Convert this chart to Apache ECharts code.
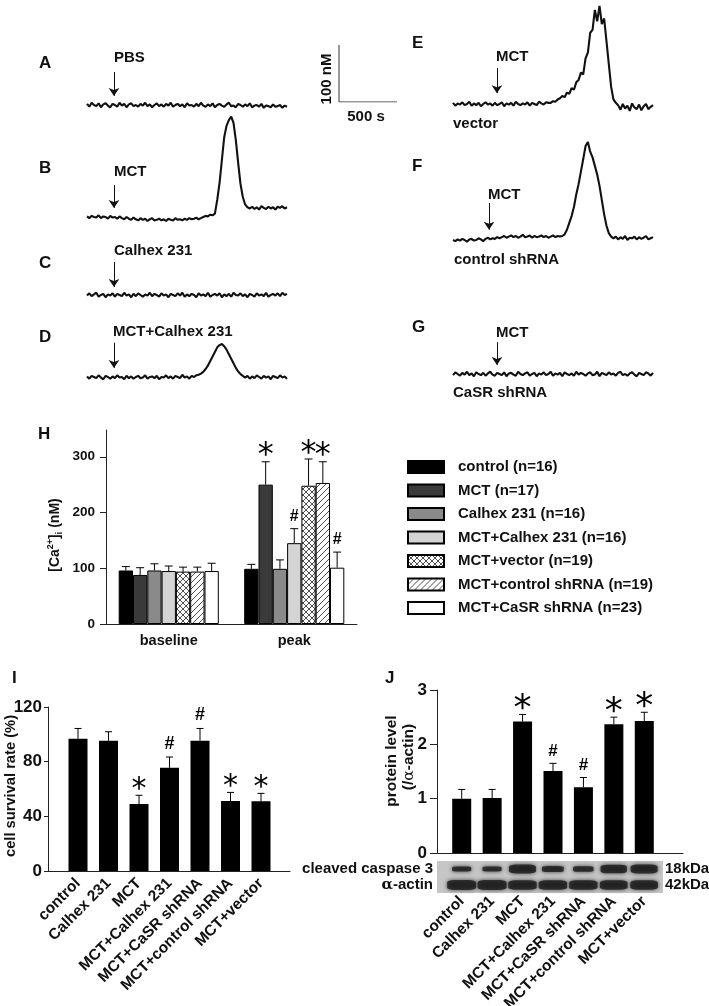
<!DOCTYPE html>
<html><head><meta charset="utf-8">
<script src="https://cdn.jsdelivr.net/npm/echarts@6/dist/echarts.min.js"></script>
<style>html,body{margin:0;padding:0;background:#fff}#c{width:709px;height:1006px}</style>
</head><body><div id="c"></div>
<script>
// ---------------- DATA ----------------
// Ca2+ traces: deviation from resting level (nM), one sample every 20 s
const SAMPLE_S = 20;
const tracePBS = [2,-3,4,0,-2,3,-4,1,3,-1,-4,2,0,-3,4,-1,2,-4,1,3,-2,0,-3,2,-1,4,-2,1,-4,0,3,-2,1,-3,2,-1,4,-3,0,2,-2,1,-4,3,-1,0,-3,2,-2,4,-1,-3,1,-2,3,-4,0,2,-1,-3,1,4,-2,-1,-4,2,0,-3,1,-2,3,-4,-1,0,-3,2,-5,-1,-2,-4,1,-3,-2,0,-5,-1,-3];
const traceMCT = [1,-2,2,0,-1,3,-2,1,0,-3,2,-1,0,-3,1,-2,-4,0,-3,-5,-1,-4,-6,-2,-5,-3,-7,-4,-2,-6,-5,-3,-6,-4,-7,-3,-5,-6,-2,-5,-4,-6,-3,-5,-2,-4,-3,-1,-4,-2,0,2,1,4,3,6,30,60,100,140,160,170,176,165,135,95,58,35,22,17,15,18,14,17,13,19,16,14,18,15,17,13,18,16,19,15,17];
const traceCalhex = [-1,3,-2,1,4,-3,0,2,-4,1,-1,3,-3,2,0,-2,4,-1,1,-4,2,-2,3,0,-3,1,-1,4,-2,2,0,-3,3,-1,1,-4,2,0,-2,3,-1,4,-3,1,-2,2,0,-4,3,-1,1,-2,4,-3,0,2,-1,3,-4,1,-2,2,-3,4,0,-1,3,-2,1,-4,2,0,-3,3,-1,1,-2,4,-3,0,2,-1,3,-2,4,0,2];
const traceMCTCalhex = [1,-3,2,0,-2,3,-1,-4,2,0,-3,1,-2,3,-1,0,-4,2,-2,1,-3,0,2,-2,-1,3,-3,0,1,-2,2,-4,0,-1,3,-2,1,-3,2,0,-2,4,-1,1,-3,2,0,3,4,6,9,14,20,28,36,44,52,56,58,54,48,40,32,24,16,10,5,2,-1,2,-3,1,-2,3,0,-3,2,-1,1,-4,2,0,-2,3,-1,1,-3];
const traceVector = [2,-3,1,-1,3,-2,0,4,-3,1,-2,2,-4,0,3,-1,1,-3,2,-2,0,3,-4,1,-1,2,-3,4,0,-2,1,-1,3,-3,2,0,-2,4,1,-1,3,2,2,5,4,8,10,14,12,20,18,28,25,38,42,55,52,80,90,125,130,165,145,172,140,150,110,70,30,8,2,-2,-10,0,-8,-3,-12,1,-6,-9,-1,-11,-4,0,-9,-5,-2];
const traceCtrlSh = [0,-2,1,-1,2,0,-3,1,2,-1,0,3,1,-2,2,4,1,3,2,5,3,5,7,4,6,8,5,7,4,6,9,5,6,8,4,7,5,6,8,5,7,4,6,8,5,7,6,7,10,18,30,42,58,80,98,120,142,165,172,155,145,130,115,95,70,45,25,12,6,3,6,1,5,2,7,0,4,3,6,1,5,2,4,7,1,3,5];
const traceCaSRsh = [-2,3,0,-3,2,-1,4,-2,1,-4,3,0,-2,2,-3,1,4,-1,-3,2,0,-2,3,-4,1,2,-1,-3,4,0,-2,1,3,-3,0,2,-4,1,-1,3,-2,0,4,-3,1,-1,2,-4,3,0,-2,1,-3,4,-1,2,0,-3,1,3,-2,-1,4,-4,2,0,-2,3,-1,1,-3,2,4,-2,0,-3,1,3,-1,-4,2,0,-2,3,1,-3,2];
const stimulusTime = [232, 232, 232, 232, 378, 310, 378]; // s
const scaleBarTime = [0, 0, 500];   // s
const scaleBarConc = [100, 0, 0];   // nM

// Panel H
const hCategories = ['baseline', 'peak'];
const hGroups = ['control (n=16)','MCT (n=17)','Calhex 231 (n=16)','MCT+Calhex 231 (n=16)','MCT+vector (n=19)','MCT+control shRNA (n=19)','MCT+CaSR shRNA (n=23)'];
const hBaseline = [96, 88, 96, 95, 94, 94, 95];
const hBaselineErr = [7, 13, 12, 9, 8, 8, 14];
const hPeak = [99, 250, 99, 145, 248, 253, 101];
const hPeakErr = [8, 41, 16, 26, 48, 38, 28];
const hPeakMarks = ['', '*', '', '#', '*', '*', '#'];
const hTicks = [0, 100, 200, 300];

// Panels I & J
const ijCategories = ['control','Calhex 231','MCT','MCT+Calhex 231','MCT+CaSR shRNA','MCT+control shRNA','MCT+vector'];
const iSurvival = [96.8, 95.3, 49, 75.5, 95.3, 51.2, 51];
const iErr = [7.5, 6.6, 6.4, 7.9, 9, 6.3, 5.8];
const iMarks = ['', '', '*', '#', '#', '*', '*'];
const jProtein = [1.0, 1.01, 2.42, 1.51, 1.21, 2.37, 2.43];
const jErr = [0.17, 0.16, 0.13, 0.14, 0.18, 0.13, 0.16];
const jMarks = ['', '', '*', '#', '#', '*', '*'];
const blotRows = ['α-actin', 'cleaved caspase 3'];
const blotMass = ['42kDa', '18kDa'];
const blotCaspase = [0.4, 0.4, 1.0, 0.6, 0.5, 0.95, 1.0];
const blotActin = [1, 1, 0.95, 0.95, 0.95, 0.9, 0.9];

// ---------------- LAYOUT / STYLE ----------------
const FONT = "'Liberation Sans', Arial, sans-serif";
const NARROW = "'Liberation Sans Narrow', 'Liberation Sans', Arial, sans-serif";
const INK = '#111';
const PXN = 0.57; // px per nM
const traceBoxes = [
  {left: 87, base: 105, max: 80, from: 58, to: 16},
  {left: 87, base: 217, max: 190, from: 56, to: 16},
  {left: 87, base: 295, max: 80, from: 58, to: 14},
  {left: 87, base: 377, max: 80, from: 60, to: 16},
  {left: 453, base: 104, max: 180, from: 63, to: 19},
  {left: 453, base: 240, max: 190, from: 65, to: 18},
  {left: 453, base: 374, max: 80, from: 56, to: 16}
];
const traces = [tracePBS, traceMCT, traceCalhex, traceMCTCalhex, traceVector, traceCtrlSh, traceCaSRsh];

function pattern(kind) {
  const c = document.createElement('canvas'); c.width = c.height = 6;
  const g = c.getContext('2d');
  g.fillStyle = '#fff'; g.fillRect(0, 0, 6, 6);
  g.strokeStyle = '#222'; g.lineWidth = 0.8; g.beginPath();
  if (kind === 'cross') { g.moveTo(0,0); g.lineTo(6,6); g.moveTo(6,0); g.lineTo(0,6); }
  else { g.moveTo(0,6); g.lineTo(6,0); g.moveTo(-1,1); g.lineTo(1,-1); g.moveTo(5,7); g.lineTo(7,5); }
  g.stroke();
  return {image: c, repeat: 'repeat'};
}
const hFills = ['#000', '#3a3a3a', '#8a8a8a', '#d4d4d4', pattern('cross'), pattern('hatch'), '#fff'];

const grids = [], xAxes = [], yAxes = [], series = [];
function addGrid(g) { grids.push(Object.assign({outerBoundsMode: 'none', containLabel: false}, g)); }
traceBoxes.forEach((b, i) => {
  addGrid({left: b.left, top: b.base - b.max * PXN, width: 200, height: (b.max + 20) * PXN});
  xAxes.push({gridIndex: i, type: 'value', min: 0, max: 1720, show: false});
  yAxes.push({gridIndex: i, type: 'value', min: -20, max: b.max, show: false});
  series.push({
    type: 'line', xAxisIndex: i, yAxisIndex: i, symbol: 'none', silent: true,
    data: traces[i].map((v, k) => [k * SAMPLE_S, v]),
    lineStyle: {color: INK, width: 2.1},
    markLine: {silent: true, symbol: ['none', 'arrow'], symbolSize: 8, label: {show: false},
      lineStyle: {color: INK, width: 1, type: 'solid'},
      data: [[{coord: [stimulusTime[i], b.from]}, {coord: [stimulusTime[i], b.to]}]]}
  });
});
// scale bar (grid 7)
addGrid({left: 339, top: 45, width: 58, height: 57});
xAxes.push({gridIndex: 7, type: 'value', min: 0, max: 500, show: false});
yAxes.push({gridIndex: 7, type: 'value', min: 0, max: 100, show: false});
series.push({type: 'line', xAxisIndex: 7, yAxisIndex: 7, symbol: 'none', silent: true,
  data: scaleBarTime.map((t, k) => [t, scaleBarConc[k]]), lineStyle: {color: '#333', width: 1}});

const axisLineStyle = {color: '#222', width: 1};
const boldLabel = (size, extra) => Object.assign({color: INK, fontFamily: FONT, fontWeight: 'bold', fontSize: size}, extra || {});

// H (grid 8)
addGrid({left: 106, top: 430, width: 251, height: 194});
xAxes.push({gridIndex: 8, type: 'category', data: hCategories, axisLine: {lineStyle: axisLineStyle},
  axisTick: {show: false}, axisLabel: boldLabel(14.5, {margin: 9})});
yAxes.push({gridIndex: 8, type: 'value', min: 0, max: 348, splitLine: {show: false},
  axisLine: {show: true, lineStyle: axisLineStyle},
  axisTick: {show: true, length: 6, customValues: hTicks, lineStyle: axisLineStyle},
  axisLabel: boldLabel(13.5, {margin: 11, customValues: hTicks})});
const HBW = 14.3;
hGroups.forEach((name, k) => {
  series.push({type: 'bar', name, xAxisIndex: 8, yAxisIndex: 8, barWidth: HBW, barGap: '0%',
    data: [hBaseline[k], hPeak[k]], itemStyle: {color: hFills[k], borderColor: '#000', borderWidth: 1}});
});

function starY(y, fs) { return y + 0.2 * fs; }
function errSeries(xi, yi, vals, errs, marks, o) {
  return {
    type: 'custom', xAxisIndex: xi, yAxisIndex: yi, z: 5, silent: true,
    data: vals.map((v, i) => [i, v + errs[i]]),
    renderItem: function (params, api) {
      const i = params.dataIndex;
      const p0 = api.coord([i, vals[i]]), p1 = api.coord([i, vals[i] + errs[i]]);
      const x = p0[0] + (o.offset || 0);
      const ch = [
        {type: 'line', shape: {x1: x, y1: p0[1], x2: x, y2: p1[1]}, style: {stroke: '#000', lineWidth: 1}},
        {type: 'line', shape: {x1: x - o.cap / 2, y1: p1[1], x2: x + o.cap / 2, y2: p1[1]}, style: {stroke: '#000', lineWidth: 1}}
      ];
      const m = marks[i];
      if (m === '*') {
        const cy = p1[1] - o.starGap;
        ch.push({type: 'text', x: x, y: starY(cy, o.starSize), style: {text: '*', fill: '#000',
          font: o.starSize + "px 'DejaVu Sans', sans-serif", textAlign: 'center', align: 'center', textVerticalAlign: 'middle', verticalAlign: 'middle'}});
      } else if (m === '#') {
        const cy = p1[1] - o.hashGap;
        ch.push({type: 'text', x: x, y: cy, style: {text: '#', fill: '#000',
          font: 'bold ' + o.hashSize + 'px ' + FONT, textAlign: 'center', align: 'center', textVerticalAlign: 'middle', verticalAlign: 'middle'}});
      }
      return {type: 'group', children: ch};
    }
  };
}
hGroups.forEach((name, k) => {
  series.push(errSeries(8, 8, [hBaseline[k], hPeak[k]], [hBaselineErr[k], hPeakErr[k]], ['', hPeakMarks[k]],
    {offset: (k - 3) * HBW, cap: 8, starGap: 12, starSize: 32, hashGap: 12, hashSize: 16}));
});

// I outer (9) & inner (10)
addGrid({left: 48, top: 707, width: 242, height: 164});
xAxes.push({gridIndex: 9, type: 'value', min: 0, max: 1, axisLine: {show: true, lineStyle: axisLineStyle},
  axisTick: {show: false}, axisLabel: {show: false}, splitLine: {show: false}});
yAxes.push({gridIndex: 9, type: 'value', min: 0, max: 120, interval: 40, splitLine: {show: false},
  axisLine: {show: true, lineStyle: axisLineStyle}, axisTick: {show: true, length: 4, lineStyle: axisLineStyle},
  axisLabel: {color: INK, fontFamily: NARROW, fontWeight: 'bold', fontSize: 17, margin: 6}});
addGrid({left: 62.75, top: 707, width: 213.5, height: 164});
xAxes.push({gridIndex: 10, type: 'category', data: ijCategories, axisLine: {show: false}, axisTick: {show: false},
  axisLabel: boldLabel(15.5, {rotate: 45, interval: 0, margin: 10})});
yAxes.push({gridIndex: 10, type: 'value', min: 0, max: 120, show: false});
series.push({type: 'bar', name: 'survival', xAxisIndex: 10, yAxisIndex: 10, barWidth: 19, data: iSurvival, itemStyle: {color: '#000'}});
series.push(errSeries(10, 10, iSurvival, iErr, iMarks, {cap: 7, starGap: 11, starSize: 30, hashGap: 13, hashSize: 18}));

// J outer (11) & inner (12)
addGrid({left: 437, top: 690, width: 246, height: 163});
xAxes.push({gridIndex: 11, type: 'value', min: 0, max: 1, axisLine: {show: true, lineStyle: axisLineStyle},
  axisTick: {show: false}, axisLabel: {show: false}, splitLine: {show: false}});
yAxes.push({gridIndex: 11, type: 'value', min: 0, max: 3, interval: 1, splitLine: {show: false},
  axisLine: {show: true, lineStyle: axisLineStyle}, axisTick: {show: true, length: 7, lineStyle: axisLineStyle},
  axisLabel: {color: INK, fontFamily: NARROW, fontWeight: 'bold', fontSize: 17, margin: 10}});
addGrid({left: 446.5, top: 690, width: 213, height: 163});
xAxes.push({gridIndex: 12, type: 'category', data: ijCategories, axisLine: {show: false}, axisTick: {show: false},
  axisLabel: boldLabel(15.5, {rotate: 45, interval: 0, margin: 46})});
yAxes.push({gridIndex: 12, type: 'value', min: 0, max: 3, show: false});
series.push({type: 'bar', name: 'protein', xAxisIndex: 12, yAxisIndex: 12, barWidth: 19, data: jProtein, itemStyle: {color: '#000'}});
series.push(errSeries(12, 12, jProtein, jErr, jMarks, {cap: 7, starGap: 12, starSize: 36, hashGap: 12, hashSize: 17}));

// Blot (13)
addGrid({left: 437, top: 861, width: 226, height: 32, show: true, backgroundColor: '#c6c6c6', borderWidth: 0});
xAxes.push({gridIndex: 13, type: 'value', min: -0.81, max: 6.62, show: false});
yAxes.push({gridIndex: 13, type: 'category', data: blotRows, position: 'left', axisLine: {show: false}, axisTick: {show: false},
  axisLabel: boldLabel(15, {margin: 4, interval: 0, formatter: v => v === 'α-actin' ? '{g|α}-actin' : v,
    rich: {g: {fontFamily: "'DejaVu Serif', serif", fontSize: 15, color: INK}}})});
yAxes.push({gridIndex: 13, type: 'category', data: blotMass, position: 'right', axisLine: {show: false}, axisTick: {show: false},
  axisLabel: boldLabel(15, {margin: 2, interval: 0})});
const bandStyle = {color: '#1a1a1a', shadowBlur: 4, shadowColor: 'rgba(0,0,0,0.85)'};
series.push({type: 'scatter', xAxisIndex: 13, yAxisIndex: 13, symbol: 'roundRect', silent: true,
  data: blotCaspase.map((v, k) => [k, 1, v]), symbolSize: d => [14 + 13 * d[2], 2 + 7 * d[2]], itemStyle: bandStyle});
series.push({type: 'scatter', xAxisIndex: 13, yAxisIndex: 13, symbol: 'roundRect', silent: true,
  data: blotActin.map((v, k) => [k, 0, v]), symbolSize: d => [16 + 13 * d[2], 3 + 7 * d[2]], itemStyle: bandStyle});

// ---------------- TEXT ----------------
function T(text, x, y, size, o) {
  o = o || {};
  return {type: 'text', x, y, rotation: o.rot || 0, silent: true,
    style: Object.assign({text, fill: INK, font: 'bold ' + size + 'px ' + FONT,
      textAlign: o.align || 'left', align: o.align || 'left', textVerticalAlign: 'middle', verticalAlign: 'middle'}, o.style || {})};
}
const V = Math.PI / 2;
const graphics = [
  T('A', 39, 63, 17), T('B', 39, 168, 17), T('C', 39, 263, 17), T('D', 39, 337, 17),
  T('E', 412, 43, 17), T('F', 412, 166, 17), T('G', 412, 327, 17),
  T('H', 38, 434, 17), T('I', 12, 678, 17), T('J', 385, 678, 17),
  T('PBS', 114, 58, 15), T('MCT', 114, 172, 15), T('Calhex 231', 114, 251, 15), T('MCT+Calhex 231', 113, 332, 15),
  T('MCT', 496, 57, 15), T('vector', 453, 124, 15), T('MCT', 488, 195, 15), T('control shRNA', 454, 260, 15),
  T('MCT', 496, 333, 15), T('CaSR shRNA', 453, 393, 15),
  T('100 nM', 327, 79, 15, {rot: V, align: 'center'}), T('500 s', 366, 117, 15, {align: 'center'}),
  T('[Ca{sup|2+}]{sub|i} (nM)', 55, 535, 14, {rot: V, align: 'center', style: {rich: {
    sup: {fontSize: 9, fontWeight: 'bold', fontFamily: FONT, verticalAlign: 'top', lineHeight: 18, fill: INK},
    sub: {fontSize: 9, fontWeight: 'bold', fontFamily: FONT, verticalAlign: 'bottom', lineHeight: 18, fill: INK}}}}),
  T('cell survival rate (%)', 11, 786, 14.7, {rot: V, align: 'center'}),
  T('protein level', 391.5, 761, 15.5, {rot: V, align: 'center'}),
  T('(/{g|α}-actin)', 408.5, 757, 15.5, {rot: V, align: 'center', style: {rich: {g: {fontFamily: "'DejaVu Serif', serif", fontSize: 15.5, fill: INK}}}})
];

const chart = echarts.init(document.getElementById('c'), null, {renderer: 'canvas'});
chart.setOption({
  animation: false,
  backgroundColor: '#fff',
  textStyle: {fontFamily: FONT},
  grid: grids, xAxis: xAxes, yAxis: yAxes, series,
  legend: {data: hGroups, orient: 'vertical', left: 407, top: 459.5, padding: 0, itemWidth: 36, itemHeight: 12, itemGap: 8.5,
    icon: 'rect', selectedMode: false,
    textStyle: {color: INK, fontFamily: FONT, fontWeight: 'bold', fontSize: 15, padding: [0, 0, 0, 9]}},
  graphic: graphics
});
</script></body></html>
